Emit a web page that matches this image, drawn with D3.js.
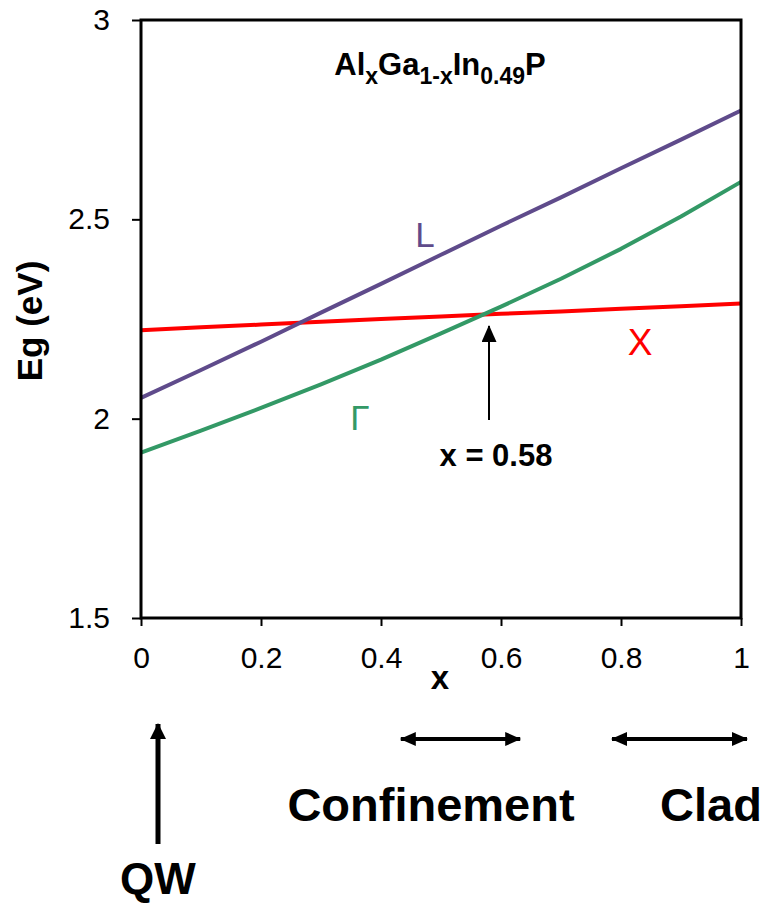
<!DOCTYPE html>
<html>
<head>
<meta charset="utf-8">
<script src="https://cdn.jsdelivr.net/npm/d3@7"></script>
<style>
  html, body { margin: 0; padding: 0; background: #fff; }
  svg { display: block; font-family: "Liberation Sans", Arial, sans-serif; }
</style>
</head>
<body>
<svg id="chart" width="767" height="905"></svg>
<script>
// Al fraction x in (AlxGa1-x)In0.49P
const xValues = [0, 0.1, 0.2, 0.3, 0.4, 0.5, 0.6, 0.7, 0.8, 0.9, 1.0];
// Band gaps (eV) for the three conduction-band minima
const gammaGap = [1.915, 1.970, 2.027, 2.086, 2.148, 2.214, 2.281, 2.351, 2.426, 2.507, 2.594];
const lGap     = [2.052, 2.122, 2.193, 2.266, 2.338, 2.411, 2.484, 2.555, 2.628, 2.700, 2.773];
const xGap     = [2.222, 2.229, 2.236, 2.243, 2.250, 2.256, 2.263, 2.269, 2.276, 2.282, 2.289];

const xTicks = [0, 0.2, 0.4, 0.6, 0.8, 1];
const yTicks = [1.5, 2, 2.5, 3];

// Direct-indirect crossover and layer composition ranges
const crossoverX = 0.58;
const crossoverE = 2.265;
const confinementRange = [0.433, 0.632];
const cladRange = [0.785, 1.01];

const svg = d3.select("#chart");
const x = d3.scaleLinear().domain([0, 1]).range([141, 741]);
const y = d3.scaleLinear().domain([1.5, 3]).range([618, 20]);

// arrowhead markers
const defs = svg.append("defs");
function marker(id, w, h) {
  defs.append("marker")
    .attr("id", id)
    .attr("viewBox", `0 0 ${w} ${h}`)
    .attr("refX", w - 1).attr("refY", h / 2)
    .attr("markerWidth", w).attr("markerHeight", h)
    .attr("markerUnits", "userSpaceOnUse")
    .attr("orient", "auto-start-reverse")
    .append("path")
    .attr("d", `M0,0L${w},${h / 2}L0,${h}Z`)
    .attr("fill", "#000");
}
marker("headThin", 17, 15);
marker("headDbl", 16, 14);
marker("headQW", 16, 16);

// y axis ticks and labels
const yAxis = d3.axisLeft(y).tickValues(yTicks).tickSize(9).tickPadding(22)
  .tickFormat(d3.format("~g"));
const gy = svg.append("g").attr("transform", `translate(${x(0)},0)`).call(yAxis);
gy.select(".domain").remove();
gy.selectAll(".tick line").attr("stroke", "#000").attr("stroke-width", 2);
gy.selectAll(".tick text").attr("font-size", 30).attr("fill", "#000")
  .attr("font-family", "Liberation Sans, Arial, sans-serif");

// x axis ticks and labels
const xAxis = d3.axisBottom(x).tickValues(xTicks).tickSize(8).tickPadding(21)
  .tickFormat(d3.format("~g"));
const gx = svg.append("g").attr("transform", `translate(0,${y(1.5)})`).call(xAxis);
gx.select(".domain").remove();
gx.selectAll(".tick line").attr("stroke", "#000").attr("stroke-width", 2);
gx.selectAll(".tick text").attr("font-size", 30).attr("fill", "#000")
  .attr("font-family", "Liberation Sans, Arial, sans-serif");

// data lines
const line = vals => d3.line().x((d, i) => x(xValues[i])).y(d => y(d))(vals);
const series = [
  { vals: xGap, color: "#ff0000" },
  { vals: lGap, color: "#5f4b8b" },
  { vals: gammaGap, color: "#339966" }
];
svg.append("g").selectAll("path").data(series).join("path")
  .attr("d", d => line(d.vals))
  .attr("fill", "none")
  .attr("stroke", d => d.color)
  .attr("stroke-width", 4)
  .attr("stroke-linejoin", "round");

// plot frame
svg.append("rect")
  .attr("x", x(0)).attr("y", y(3))
  .attr("width", x(1) - x(0)).attr("height", y(1.5) - y(3))
  .attr("fill", "none").attr("stroke", "#000").attr("stroke-width", 3);

// axis titles
svg.append("text").attr("transform", "translate(42,321) rotate(-90)")
  .attr("text-anchor", "middle").attr("font-size", 35).attr("font-weight", "bold")
  .text("Eg (eV)");
svg.append("text").attr("x", 440).attr("y", 689)
  .attr("text-anchor", "middle").attr("font-size", 33).attr("font-weight", "bold")
  .text("x");

// compound formula
const title = svg.append("text").attr("x", 440).attr("y", 75)
  .attr("text-anchor", "middle").attr("font-size", 31).attr("font-weight", "bold");
const parts = [["Al", 0], ["x", 1], ["Ga", -1], ["1-x", 1], ["In", -1], ["0.49", 1], ["P", -1]];
parts.forEach(([t, s]) => {
  const ts = title.append("tspan").text(t);
  if (s === 1) ts.attr("font-size", 23).attr("dy", 9);
  if (s === -1) ts.attr("dy", -9);
});

// band labels
svg.append("text").attr("x", 425).attr("y", 247).attr("text-anchor", "middle")
  .attr("font-size", 35).attr("fill", "#5f4b8b").text("L");
svg.append("text").attr("x", 360).attr("y", 430).attr("text-anchor", "middle")
  .attr("font-size", 35).attr("fill", "#339966").text("Γ");
svg.append("text").attr("x", 640).attr("y", 355).attr("text-anchor", "middle")
  .attr("font-size", 37).attr("fill", "#ff0000").text("X");

// crossover marker
svg.append("line")
  .attr("x1", x(crossoverX)).attr("x2", x(crossoverX))
  .attr("y1", 420).attr("y2", y(crossoverE) + 13)
  .attr("stroke", "#000").attr("stroke-width", 2)
  .attr("marker-end", "url(#headThin)");
svg.append("text").attr("x", 496).attr("y", 466).attr("text-anchor", "middle")
  .attr("font-size", 31).attr("font-weight", "bold").text("x = 0.58");

// layer composition ranges
[[confinementRange, "Confinement", 431], [cladRange, "Clad", 711]].forEach(([r, label, cx]) => {
  svg.append("line")
    .attr("x1", x(r[0])).attr("x2", x(r[1]))
    .attr("y1", 739).attr("y2", 739)
    .attr("stroke", "#000").attr("stroke-width", 4)
    .attr("marker-start", "url(#headDbl)").attr("marker-end", "url(#headDbl)");
  svg.append("text").attr("x", cx).attr("y", 821).attr("text-anchor", "middle")
    .attr("font-size", 47).attr("font-weight", "bold").text(label);
});

// quantum well
svg.append("line").attr("x1", 158).attr("x2", 158).attr("y1", 844).attr("y2", 724)
  .attr("stroke", "#000").attr("stroke-width", 5)
  .attr("marker-end", "url(#headQW)");
svg.append("text").attr("x", 158).attr("y", 894).attr("text-anchor", "middle")
  .attr("font-size", 44).attr("font-weight", "bold").text("QW");
</script>
</body>
</html>
